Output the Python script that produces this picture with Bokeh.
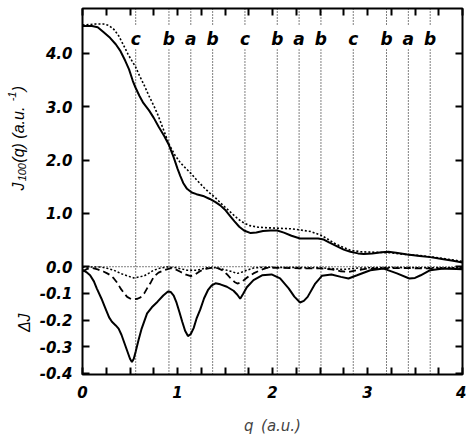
import math
from bokeh.plotting import figure
from bokeh.layouts import row
from bokeh.models import ColumnDataSource, FixedTicker, LinearAxis, Range1d, Span
from bokeh.core.properties import value
from bokeh.embed import file_html
from bokeh.resources import INLINE

# ---------------- data ----------------
q_J_solid = [0.00, 0.10, 0.16, 0.22, 0.29, 0.35, 0.40, 0.45, 0.49, 0.53, 0.56, 0.60, 0.64, 0.70,
             0.75, 0.80, 0.86, 0.91, 0.96, 1.00, 1.03, 1.06, 1.10, 1.15, 1.20, 1.28, 1.34, 1.40,
             1.45, 1.50, 1.55, 1.60, 1.65, 1.70, 1.77, 1.83, 1.90, 1.98, 2.05, 2.12, 2.20, 2.29,
             2.40, 2.48, 2.54, 2.60, 2.68, 2.75, 2.82, 2.90, 2.96, 3.05, 3.15, 3.22, 3.30, 3.42,
             3.55, 3.66, 3.80, 3.90, 4.00]
J_solid = [4.51, 4.51, 4.49, 4.40, 4.29, 4.17, 4.04, 3.86, 3.70, 3.48, 3.35, 3.20, 3.07, 2.93,
           2.79, 2.63, 2.45, 2.28, 2.05, 1.84, 1.70, 1.57, 1.46, 1.39, 1.36, 1.32, 1.27, 1.21,
           1.15, 1.07, 0.96, 0.85, 0.75, 0.68, 0.63, 0.64, 0.67, 0.68, 0.68, 0.64, 0.58, 0.53,
           0.53, 0.53, 0.51, 0.45, 0.38, 0.32, 0.28, 0.25, 0.24, 0.25, 0.27, 0.28, 0.26, 0.23,
           0.20, 0.18, 0.14, 0.11, 0.08]

q_J_dotted = [0.00, 0.08, 0.14, 0.22, 0.28, 0.33, 0.38, 0.43, 0.48, 0.52, 0.56, 0.60, 0.65, 0.70,
              0.75, 0.79, 0.85, 0.91, 0.97, 1.03, 1.09, 1.14, 1.20, 1.28, 1.34, 1.40, 1.48, 1.56,
              1.64, 1.70, 1.76, 1.85, 1.95, 2.08, 2.20, 2.29, 2.40, 2.51, 2.58, 2.64, 2.72, 2.82,
              2.93, 3.10, 3.25, 3.40, 3.55, 3.69, 3.85, 4.00]
J_dotted = [4.53, 4.54, 4.55, 4.55, 4.52, 4.45, 4.33, 4.16, 3.98, 3.86, 3.74, 3.58, 3.40, 3.20,
            3.02, 2.86, 2.58, 2.30, 2.10, 1.95, 1.84, 1.75, 1.63, 1.48, 1.38, 1.29, 1.15, 1.02,
            0.89, 0.82, 0.77, 0.74, 0.73, 0.72, 0.71, 0.69, 0.66, 0.59, 0.52, 0.45, 0.38, 0.31,
            0.28, 0.27, 0.26, 0.23, 0.21, 0.18, 0.14, 0.10]

q_dJ_solid = [0.00, 0.04, 0.08, 0.12, 0.15, 0.20, 0.24, 0.28, 0.31, 0.35, 0.38, 0.41, 0.44, 0.47,
              0.50, 0.52, 0.54, 0.56, 0.59, 0.62, 0.65, 0.68, 0.73, 0.79, 0.85, 0.90, 0.93, 0.96,
              0.99, 1.02, 1.05, 1.08, 1.11, 1.14, 1.17, 1.20, 1.24, 1.28, 1.32, 1.36, 1.40, 1.45,
              1.52, 1.59, 1.63, 1.66, 1.69, 1.73, 1.80, 1.89, 1.99, 2.08, 2.17, 2.23, 2.29, 2.33,
              2.37, 2.45, 2.52, 2.62, 2.72, 2.80, 2.89, 3.03, 3.17, 3.31, 3.44, 3.50, 3.56, 3.66,
              3.80, 4.00]
dJ_solid = [-0.012, -0.020, -0.032, -0.055, -0.081, -0.120, -0.155, -0.190, -0.206, -0.220,
            -0.232, -0.255, -0.285, -0.315, -0.345, -0.357, -0.345, -0.318, -0.275, -0.235,
            -0.205, -0.175, -0.152, -0.131, -0.108, -0.093, -0.095, -0.108, -0.135, -0.170,
            -0.206, -0.240, -0.260, -0.252, -0.230, -0.195, -0.160, -0.118, -0.088, -0.070,
            -0.062, -0.066, -0.075, -0.090, -0.105, -0.120, -0.102, -0.077, -0.050, -0.032,
            -0.029, -0.044, -0.081, -0.112, -0.134, -0.128, -0.113, -0.063, -0.034, -0.029,
            -0.038, -0.044, -0.032, -0.013, -0.007, -0.025, -0.044, -0.042, -0.032, -0.013,
            -0.007, -0.009]

q_dJ_dashed = [0.00, 0.05, 0.10, 0.16, 0.22, 0.26, 0.30, 0.33, 0.37, 0.40, 0.44, 0.47, 0.51, 0.54,
               0.58, 0.61, 0.65, 0.68, 0.72, 0.75, 0.80, 0.86, 0.93, 0.98, 1.03, 1.09, 1.14, 1.19,
               1.24, 1.30, 1.38, 1.43, 1.47, 1.52, 1.56, 1.60, 1.63, 1.67, 1.70, 1.75, 1.80, 1.87,
               1.94, 2.10, 2.30, 2.50, 2.62, 2.72, 2.80, 2.88, 3.00, 3.30, 3.60, 4.00]
dJ_dashed = [-0.018, -0.008, -0.005, -0.010, -0.018, -0.025, -0.033, -0.044, -0.062, -0.081,
             -0.100, -0.113, -0.121, -0.122, -0.120, -0.115, -0.100, -0.081, -0.058, -0.038,
             -0.022, -0.013, -0.005, -0.010, -0.019, -0.030, -0.035, -0.028, -0.016, -0.008,
             -0.002, -0.006, -0.013, -0.028, -0.044, -0.057, -0.063, -0.058, -0.050, -0.036,
             -0.025, -0.013, -0.004, -0.004, -0.006, -0.006, -0.010, -0.017, -0.020, -0.014,
             -0.007, -0.005, -0.006, -0.006]

q_dJ_dotted = [0.00, 0.10, 0.19, 0.26, 0.33, 0.40, 0.47, 0.54, 0.60, 0.65, 0.70, 0.75, 0.82, 0.89,
               0.99, 1.05, 1.10, 1.21, 1.31, 1.40, 1.45, 1.51, 1.56, 1.63, 1.68, 1.73, 1.80, 1.90,
               2.20, 2.50, 2.75, 2.90, 3.20, 3.60, 4.00]
dJ_dotted = [-0.002, -0.001, -0.001, -0.006, -0.013, -0.025, -0.034, -0.042, -0.038, -0.034,
             -0.024, -0.013, -0.005, -0.001, -0.004, -0.009, -0.013, -0.013, -0.004, -0.004,
             -0.007, -0.012, -0.017, -0.025, -0.020, -0.013, -0.005, -0.002, -0.003, -0.004,
             -0.010, -0.005, -0.003, -0.004, -0.004]

site_q = [0.56, 0.91, 1.14, 1.37, 1.71, 2.05, 2.28, 2.51, 2.85, 3.20, 3.43, 3.66]
site_labels = ["c", "b", "a", "b", "c", "b", "a", "b", "c", "b", "a", "b"]

x_ticks = [0, 1, 2, 3, 4]
x_tick_labels = ["0", "1", "2", "3", "4"]
x_minor_ticks = [0.25, 0.5, 0.75, 1.25, 1.5, 1.75, 2.25, 2.5, 2.75, 3.25, 3.5, 3.75]
J_ticks = [1.0, 2.0, 3.0, 4.0]
J_tick_labels = ["1.0", "2.0", "3.0", "4.0"]
dJ_ticks = [0.0, -0.1, -0.2, -0.3, -0.4]
dJ_tick_labels = ["0.0", "-0.1", "-0.2", "-0.3", "-0.4"]

y_title_pieces = ["J", "100", "(q)  (a.u.", "-1", ")"]
dJ_title = "\u0394J"
x_title = "q\u2002(a.u.)"

DJ_SCALE = 5.0   # lower panel magnification relative to the J scale

# ---------------- main figure ----------------
TITLE_W = 32
BORDER_TOP, BORDER_BOTTOM = 8, 66
Y_MIN, Y_MAX = -2.02, 4.84
y_rng = Range1d(Y_MIN, Y_MAX)
p = figure(width=466 - TITLE_W, height=440, output_backend="svg", toolbar_location=None,
           x_range=Range1d(0, 4), y_range=y_rng,
           min_border_left=82 - TITLE_W, min_border_right=4, min_border_top=BORDER_TOP,
           min_border_bottom=BORDER_BOTTOM)
p.title.visible = False
p.background_fill_color = "white"
p.border_fill_color = "white"
p.outline_line_color = "black"
p.outline_line_width = 2
p.grid.visible = False

tick_font = "DejaVu Sans"

y_tick_vals = [round(v * DJ_SCALE, 6) for v in dJ_ticks] + J_ticks
y_overrides = {}
for v, s in zip(J_ticks, J_tick_labels):
    y_overrides[v] = s
for v, s in zip(dJ_ticks, dJ_tick_labels):
    y_overrides[round(v * DJ_SCALE, 6)] = s
x_overrides = {v: s for v, s in zip(x_ticks, x_tick_labels)}


def style_axis(ax, standoff=10):
    ax.axis_line_color = None
    ax.major_tick_in = 7
    ax.major_tick_out = 0
    ax.minor_tick_in = 7
    ax.minor_tick_out = 0
    ax.major_tick_line_width = 2
    ax.minor_tick_line_width = 2
    ax.major_tick_line_color = "black"
    ax.minor_tick_line_color = "black"
    ax.major_label_text_font = tick_font
    ax.major_label_text_font_style = "bold italic"
    ax.major_label_text_font_size = "15px"
    ax.major_label_text_color = "black"
    ax.major_label_standoff = standoff


xax = p.xaxis[0]
xax.ticker = FixedTicker(ticks=x_ticks, minor_ticks=x_minor_ticks)
xax.major_label_overrides = x_overrides
style_axis(xax, 11)
xax.axis_label = x_title
xax.axis_label_text_font = "DejaVu Sans"
xax.axis_label_text_font_style = "italic"
xax.axis_label_text_font_size = "15px"
xax.axis_label_standoff = 16

yax = p.yaxis[0]
yax.ticker = FixedTicker(ticks=y_tick_vals)
yax.major_label_overrides = y_overrides
style_axis(yax, 10)

top_ax = LinearAxis(ticker=FixedTicker(ticks=x_ticks, minor_ticks=x_minor_ticks))
top_ax.major_label_overrides = {v: "" for v in x_ticks}
style_axis(top_ax, 0)
p.add_layout(top_ax, "above")

right_ax = LinearAxis(ticker=FixedTicker(ticks=y_tick_vals))
right_ax.major_label_overrides = {v: "" for v in y_tick_vals}
style_axis(right_ax, 0)
p.add_layout(right_ax, "right")

# reference lines
p.add_layout(Span(location=0, dimension="width", line_color="black", line_width=1, line_dash="1 2"))
site_src = ColumnDataSource(dict(q=site_q, lbl=site_labels,
                                 y0=[Y_MIN] * len(site_q), y1=[4.07] * len(site_q),
                                 y2=[4.54] * len(site_q), y3=[Y_MAX] * len(site_q),
                                 ylab=[4.26] * len(site_q)))
p.segment(x0="q", y0="y0", x1="q", y1="y1", source=site_src, line_color="black",
          line_width=1, line_dash="1 2")
p.segment(x0="q", y0="y2", x1="q", y1="y3", source=site_src, line_color="black",
          line_width=1, line_dash="1 2")
p.text(x="q", y="ylab", text="lbl", source=site_src, text_font=value(tick_font),
       text_font_style="bold italic", text_font_size="17px", text_align="center",
       text_baseline="middle", text_color="black")

# curves
p.line(q_J_solid, J_solid, line_color="black", line_width=2)
p.line(q_J_dotted, J_dotted, line_color="black", line_width=1.6, line_dash="2 2")
p.line(q_dJ_solid, [v * DJ_SCALE for v in dJ_solid], line_color="black", line_width=2)
p.line(q_dJ_dashed, [v * DJ_SCALE for v in dJ_dashed], line_color="black", line_width=1.8,
       line_dash="7 4")
p.line(q_dJ_dotted, [v * DJ_SCALE for v in dJ_dotted], line_color="black", line_width=1.5,
       line_dash="2 2")

# ---------------- narrow strip holding the rotated y titles (shares the y scale) ----------------
t = figure(width=TITLE_W, height=440, output_backend="svg", toolbar_location=None,
           x_range=Range1d(0, TITLE_W), y_range=y_rng,
           x_axis_location=None, y_axis_location=None,
           min_border_left=0, min_border_right=0, min_border_top=BORDER_TOP,
           min_border_bottom=BORDER_BOTTOM)
t.title.visible = False
t.grid.visible = False
t.outline_line_color = None
t.background_fill_color = "white"
t.border_fill_color = "white"

title_font = "Liberation Sans"
# piece positions: baseline x (px within the strip), start position on the J scale, font size
piece_x = [17.5, 21.5, 17.5, 11.5, 17.5]
piece_y = [1.43, 1.60, 1.95, 3.10, 3.29]
piece_size = ["16px", "11px", "16px", "11px", "16px"]
for txt, xx, yy, sz in zip(y_title_pieces, piece_x, piece_y, piece_size):
    t.text(x=[xx], y=[yy], text=[txt], angle=math.pi / 2, text_align="left",
           text_baseline="alphabetic", text_font=value(title_font),
           text_font_style="italic", text_font_size=sz, text_color="black")
t.text(x=[24], y=[-1.05], text=[dJ_title], angle=math.pi / 2, text_align="center",
       text_baseline="alphabetic", text_font=value(title_font),
       text_font_style="italic", text_font_size="16px", text_color="black")

layout = row(t, p, spacing=0)
open("out.html", "w").write(file_html(layout, INLINE))
